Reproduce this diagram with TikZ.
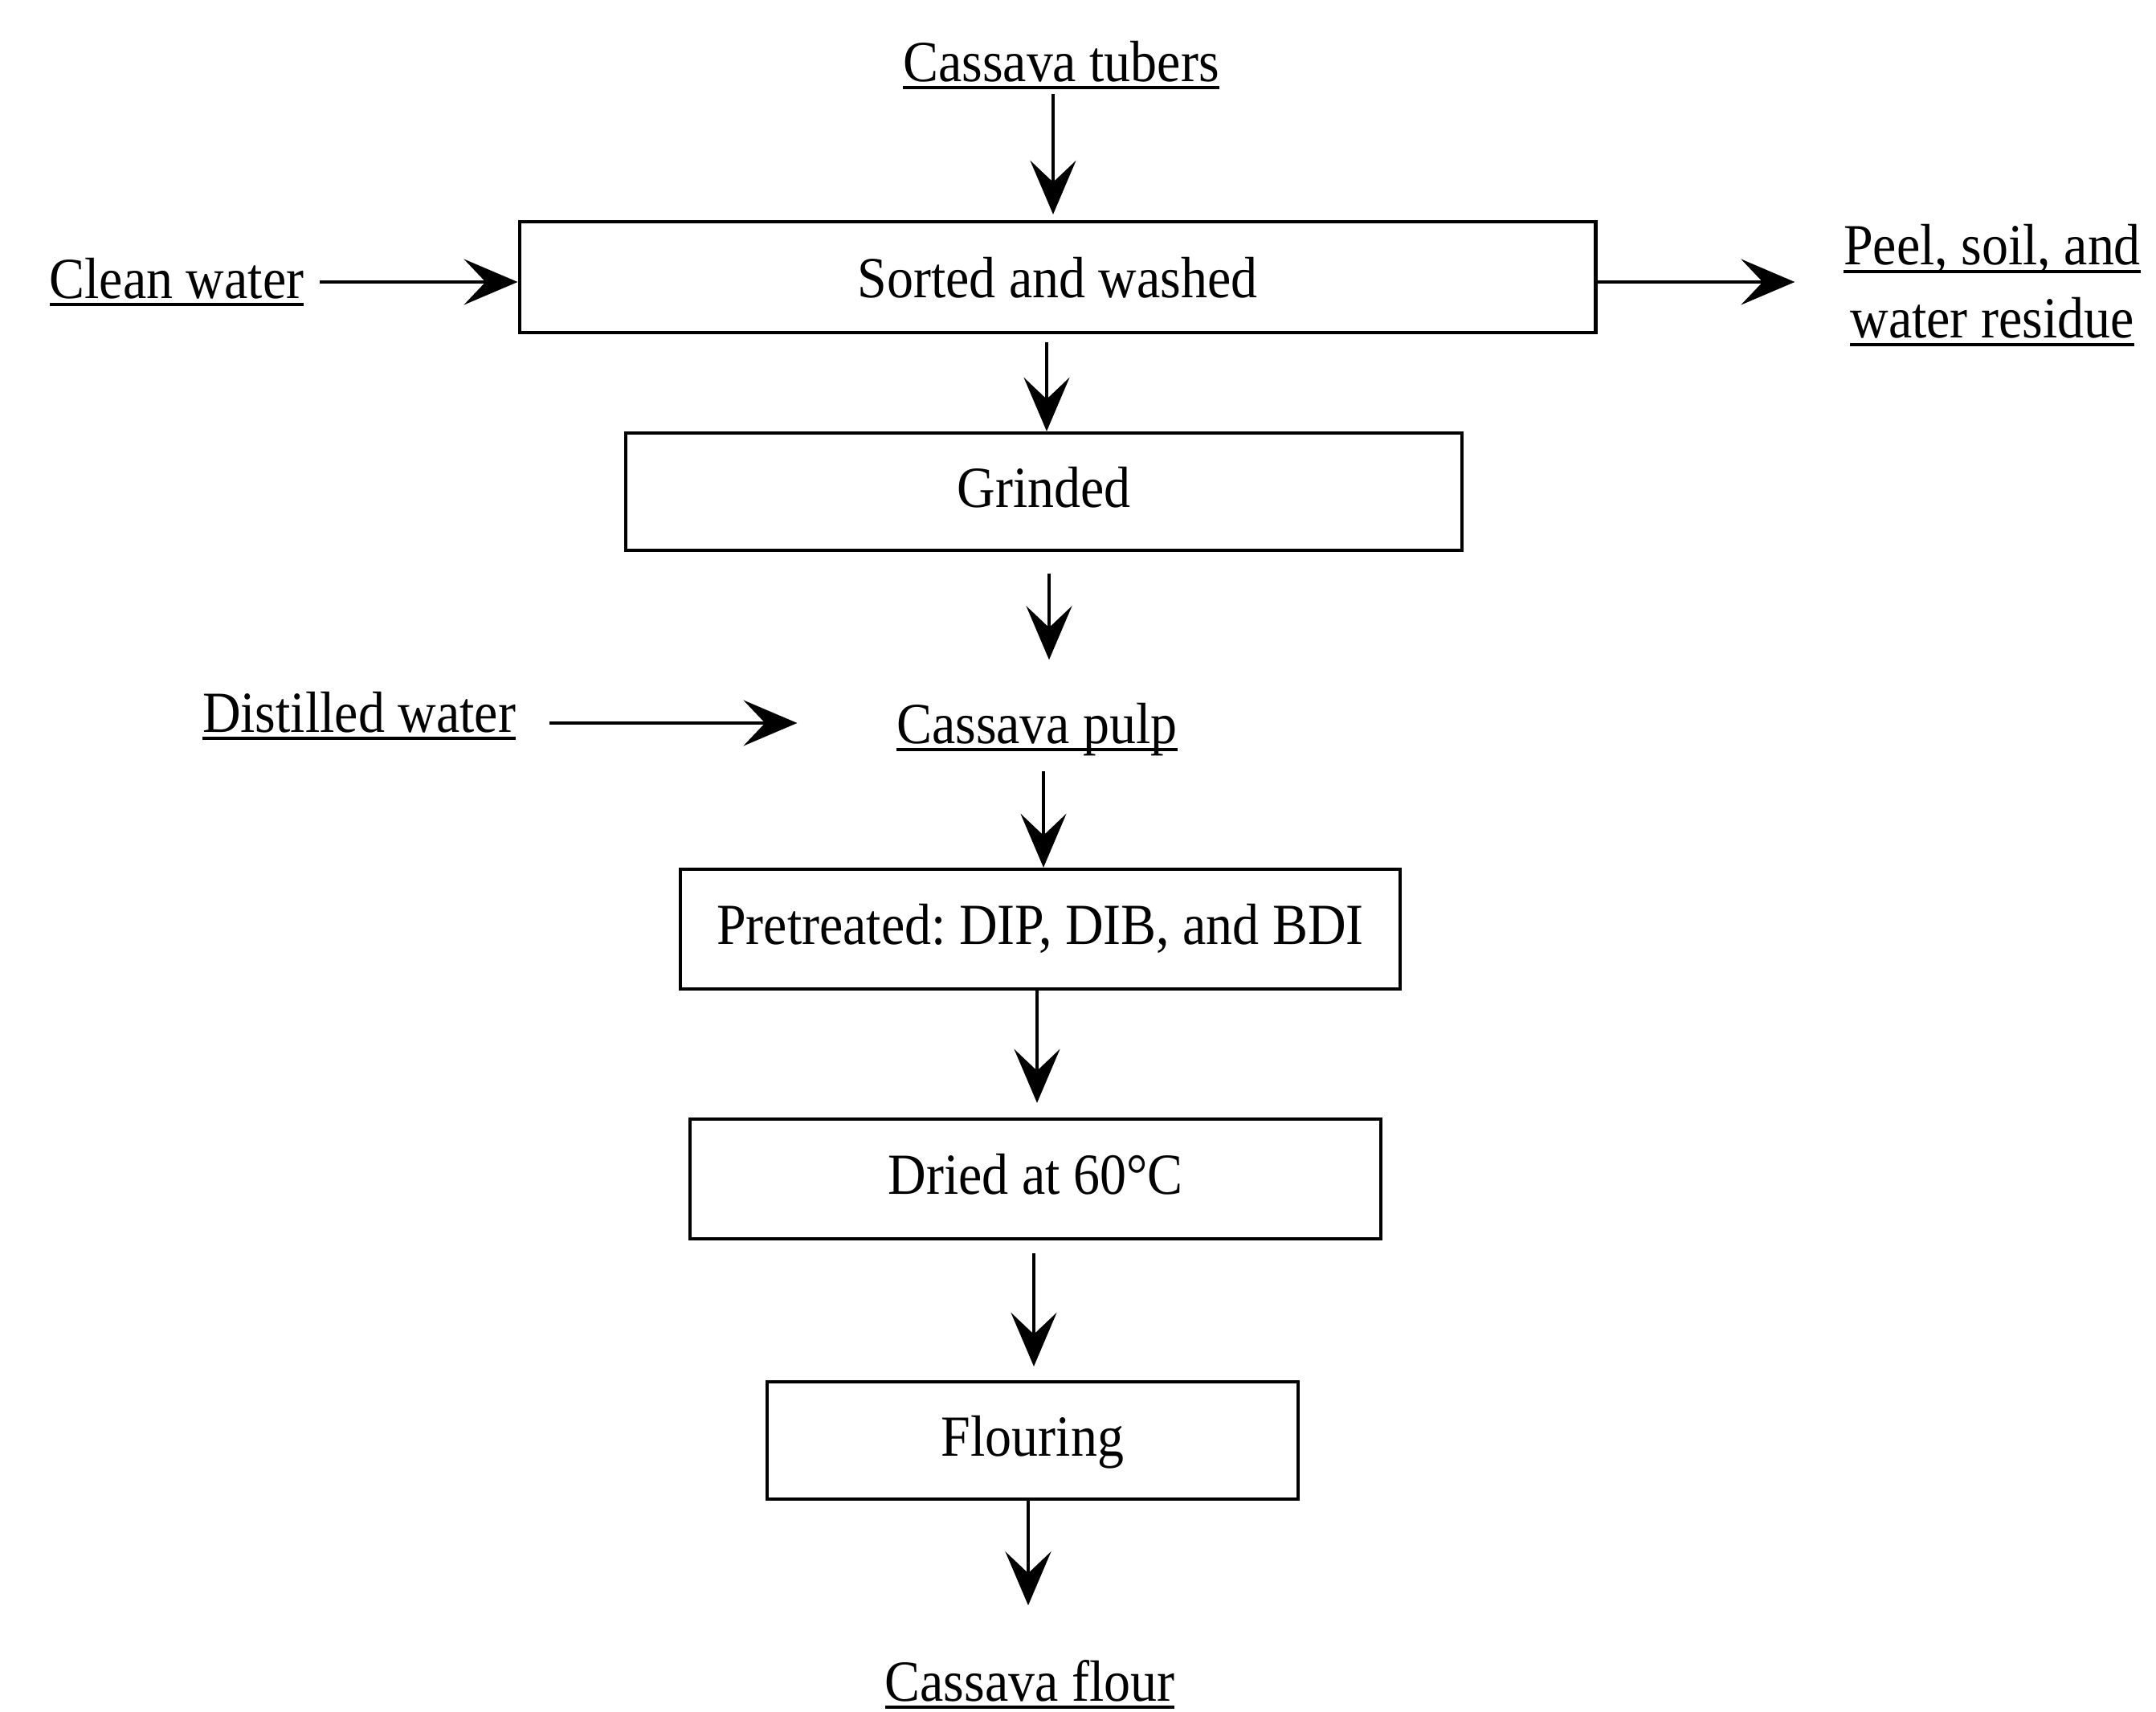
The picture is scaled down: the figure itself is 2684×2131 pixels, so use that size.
\documentclass[tikz,border=0pt]{standalone}
\usepackage{fontspec}
\setmainfont{Liberation Serif}[FakeStretch=0.91]
\usetikzlibrary{arrows.meta,calc}
\newcommand{\fs}{\fontsize{20.6pt}{25.9pt}\selectfont\frenchspacing}
\newcommand{\ulx}[1]{\setbox0\hbox{#1}\rlap{\vrule width\wd0 height -1.7pt depth 2.8pt}\box0}
\begin{document}
\begin{tikzpicture}[x=0.01cm,y=-0.01cm,
  lbl/.style={inner sep=0pt,font=\fs,text height=0.52cm,text depth=0.14cm},
  box/.style={draw,line width=1.2pt,inner sep=0pt,font=\fs,text height=0.52cm,text depth=0.14cm},
  arr/.style={line width=0.9pt,-{Stealth[length=0.67cm,width=0.57cm,inset=0.27cm]}}]
\fill[white] (0,0) rectangle (2684,2131);
\useasboundingbox (0,0) rectangle (2684,2131);

\node[lbl] (tubers) at (1321,82) {\ulx{Cassava tubers}};
\node[box,minimum width=13.39cm,minimum height=1.38cm,text height=0.56cm,text depth=0.06cm] (sorted) at (1316.5,345) {Sorted and washed};
\node[lbl] (clean) at (220,352) {\ulx{Clean water}};
\node[inner sep=0pt,font=\fs,align=center] (peel) at (2480,355) {\ulx{Peel, soil, and}\\\ulx{water residue}};
\node[box,minimum width=10.41cm,minimum height=1.46cm] (grind) at (1299.5,612) {Grinded};
\node[lbl] (distilled) at (447,892) {\ulx{Distilled water}};
\node[lbl] (pulp) at (1291,906) {\ulx{Cassava pulp}};
\node[box,minimum width=8.96cm,minimum height=1.49cm] (pretreated) at (1295,1156.5) {Pretreated: DIP, DIB, and BDI};
\node[box,minimum width=8.60cm,minimum height=1.49cm] (dried) at (1289,1467.5) {Dried at 60°C};
\node[box,minimum width=6.61cm,minimum height=1.46cm] (flouring) at (1285.5,1793) {Flouring};
\node[lbl] (flour) at (1282,2098) {\ulx{Cassava flour}};

\draw[arr] ($(tubers.south)+(-10,1)$) -- ($(sorted.north)+(-5.5,-7)$);
\draw[arr] ($(clean.east)+(19,-1)$) -- ($(sorted.west)+(0,6)$);
\draw[arr] ($(sorted.east)+(0,6)$) -- ($(peel.west)+(-60,-4)$);
\draw[arr] ($(sorted.south)+(-13.5,10)$) -- ($(grind.north)+(3.5,0)$);
\draw[arr] ($(grind.south)+(6.5,27)$) -- ($(pulp.north)+(15,-51)$);
\draw[arr] ($(distilled.east)+(41,8)$) -- ($(pulp.west)+(-123,-6)$);
\draw[arr] ($(pulp.south)+(8,20)$) -- ($(pretreated.north)+(4,0)$);
\draw[arr] ($(pretreated.south)+(-4,0)$) -- ($(dried.north)+(2,-18)$);
\draw[arr] ($(dried.south)+(-2,16)$) -- ($(flouring.north)+(1.5,-17)$);
\draw[arr] ($(flouring.south)+(-5.5,0)$) -- ($(flour.north)+(-2,-66)$);
\end{tikzpicture}
\end{document}
